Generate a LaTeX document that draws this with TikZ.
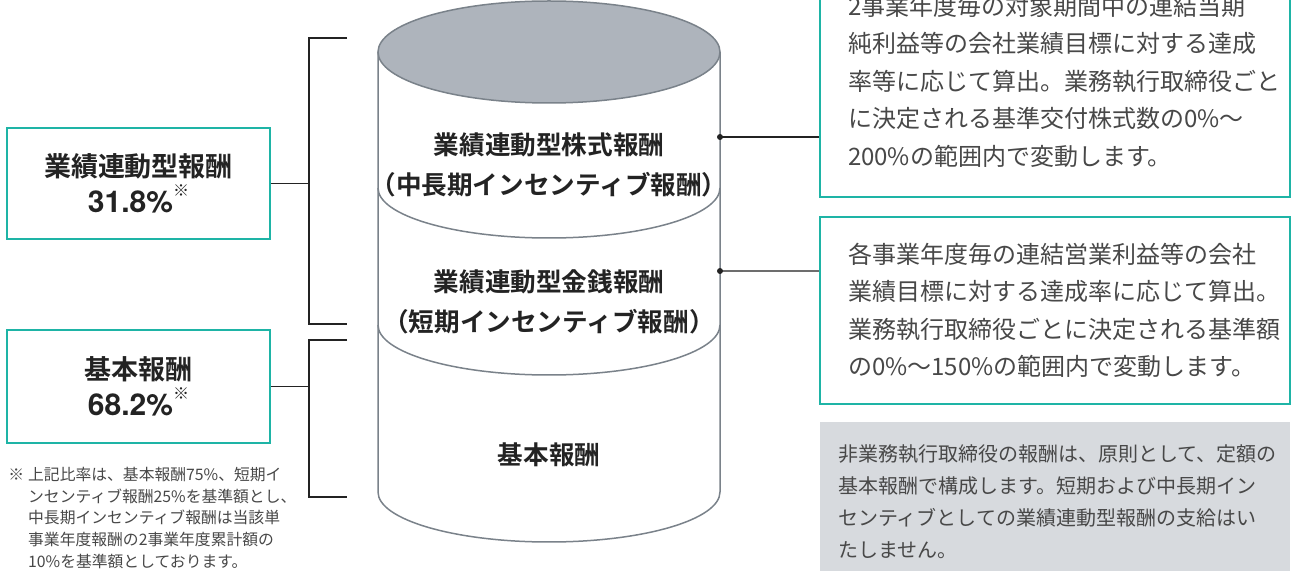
\documentclass[tikz,border=0pt]{standalone}
\usepackage{fontspec}
\setmainfont{Noto Sans CJK JP}[BoldFont={Noto Sans CJK JP Bold}]
\newfontfamily\numfont{TeX Gyre Heros}

\definecolor{boxteal}{RGB}{30,180,166}
\definecolor{cylline}{RGB}{122,130,138}
\definecolor{cyltop}{RGB}{174,180,188}
\definecolor{notegray}{RGB}{215,218,222}
\definecolor{inktext}{RGB}{35,35,35}
\definecolor{bodytext}{RGB}{72,72,72}

\tikzset{
  sharebox/.style={draw=boxteal, line width=0.8pt, fill=white, minimum width=131.5pt,
    text=inktext, align=center, font=\bfseries\fontsize{13.5}{19}\selectfont},
  infobox/.style={draw=boxteal, line width=0.8pt, inner xsep=14pt, text width=207pt,
    text=bodytext, align=left, font=\fontsize{12}{18.75}\selectfont},
  notebox/.style={fill=notegray, inner xsep=9pt, text width=217pt,
    text=bodytext, align=left, font=\fontsize{10}{16}\selectfont},
  cyllabel/.style={text=inktext, align=center, font=\bfseries\fontsize{12.8}{20}\selectfont},
  cyl/.style={draw=cylline, line width=0.75pt},
  link/.style={draw=inktext, line width=0.6pt}
}
\newcommand{\refmark}{\raisebox{0.6em}{\fontsize{8}{8}\selectfont ※}}
\newcommand{\sharenum}[1]{{\numfont\bfseries\fontsize{15}{15}\selectfont #1}}

\begin{document}
\begin{tikzpicture}[x=0.5pt, y=-0.5pt]
\clip (0,0) rectangle (1292,571);

\fill[white] (0,0) rectangle (1292,571);

\fill[white] (378,52) -- (378,492) arc[start angle=180, end angle=0, x radius=171, y radius=50] -- (720,52) -- cycle;
\draw[cyl] (378,52) -- (378,492) arc[start angle=180, end angle=0, x radius=171, y radius=50] -- (720,52);
\draw[cyl, fill=cyltop] (549,52) ellipse [x radius=171, y radius=51];
\draw[cyl] (378,188) arc[start angle=180, end angle=0, x radius=171, y radius=50];
\draw[cyl] (378,325) arc[start angle=180, end angle=0, x radius=171, y radius=50];

\node[cyllabel] (stocklbl) at (549,165) {業績連動型株式報酬\\（中長期インセンティブ報酬）};
\node[cyllabel] (cashlbl) at (549,302) {業績連動型金銭報酬\\（短期インセンティブ報酬）};
\node[cyllabel] (baselbl) at (549,455) {基本報酬};

\node[sharebox, minimum height=55.5pt] (perf) at (138.5,183.5) {業績連動型報酬\\[-1pt]\sharenum{31.8\%}\refmark};
\node[sharebox, minimum height=56.5pt] (base) at (138.5,386.5) {基本報酬\\[-1pt]\sharenum{68.2\%}\refmark};

\coordinate (perfTop) at (347,38);
\coordinate (perfBot) at (347,324);
\coordinate (perfJoin) at (309,183.5);
\coordinate (baseTop) at (347,340);
\coordinate (baseBot) at (347,497);
\coordinate (baseJoin) at (309,386.5);

\draw[link] (perf.east) -- (perfJoin);
\draw[link] (perfTop) -- (perfTop -| perfJoin) -- (perfBot -| perfJoin) -- (perfBot);
\draw[link] (base.east) -- (baseJoin);
\draw[link] (baseTop) -- (baseTop -| baseJoin) -- (baseBot -| baseJoin) -- (baseBot);

\node[anchor=north west, text=bodytext, inner sep=0pt, font=\fontsize{7.9}{10.85}\selectfont] (footnote) at (8,465) {%
\begin{tabular}{@{}l@{\hspace{2pt}}l@{}}
※ & 上記比率は、基本報酬75\%、短期イ\\
 & ンセンティブ報酬25\%を基準額とし、\\
 & 中長期インセンティブ報酬は当該単\\
 & 事業年度報酬の2事業年度累計額の\\
 & 10\%を基準額としております。
\end{tabular}};

\node[infobox, minimum height=116pt] (stockbox) at (1055,81) {2事業年度毎の対象期間中の連結当期\\
純利益等の会社業績目標に対する達成\\
率等に応じて算出。業務執行取締役ごと\\
に決定される基準交付株式数の0\%〜\\
200\%の範囲内で変動します。};

\node[infobox, minimum height=93.5pt] (cashbox) at (1055,310.5) {各事業年度毎の連結営業利益等の会社\\
業績目標に対する達成率に応じて算出。\\
業務執行取締役ごとに決定される基準額\\
の0\%〜150\%の範囲内で変動します。};

\node[notebox, minimum height=80pt] (outsidenote) at (1055,502) {非業務執行取締役の報酬は、原則として、定額の\\
基本報酬で構成します。短期および中長期イン\\
センティブとしての業績連動型報酬の支給はい\\
たしません。};

\coordinate (stockPt) at (720,137);
\coordinate (cashPt) at (720,271);
\draw[link] (stockPt) -- (stockPt -| stockbox.west);
\draw[link, draw=bodytext!80] (cashPt) -- (cashPt -| cashbox.west);
\fill[inktext] (stockPt) circle (3);
\fill[inktext] (cashPt) circle (3);
\end{tikzpicture}
\end{document}
